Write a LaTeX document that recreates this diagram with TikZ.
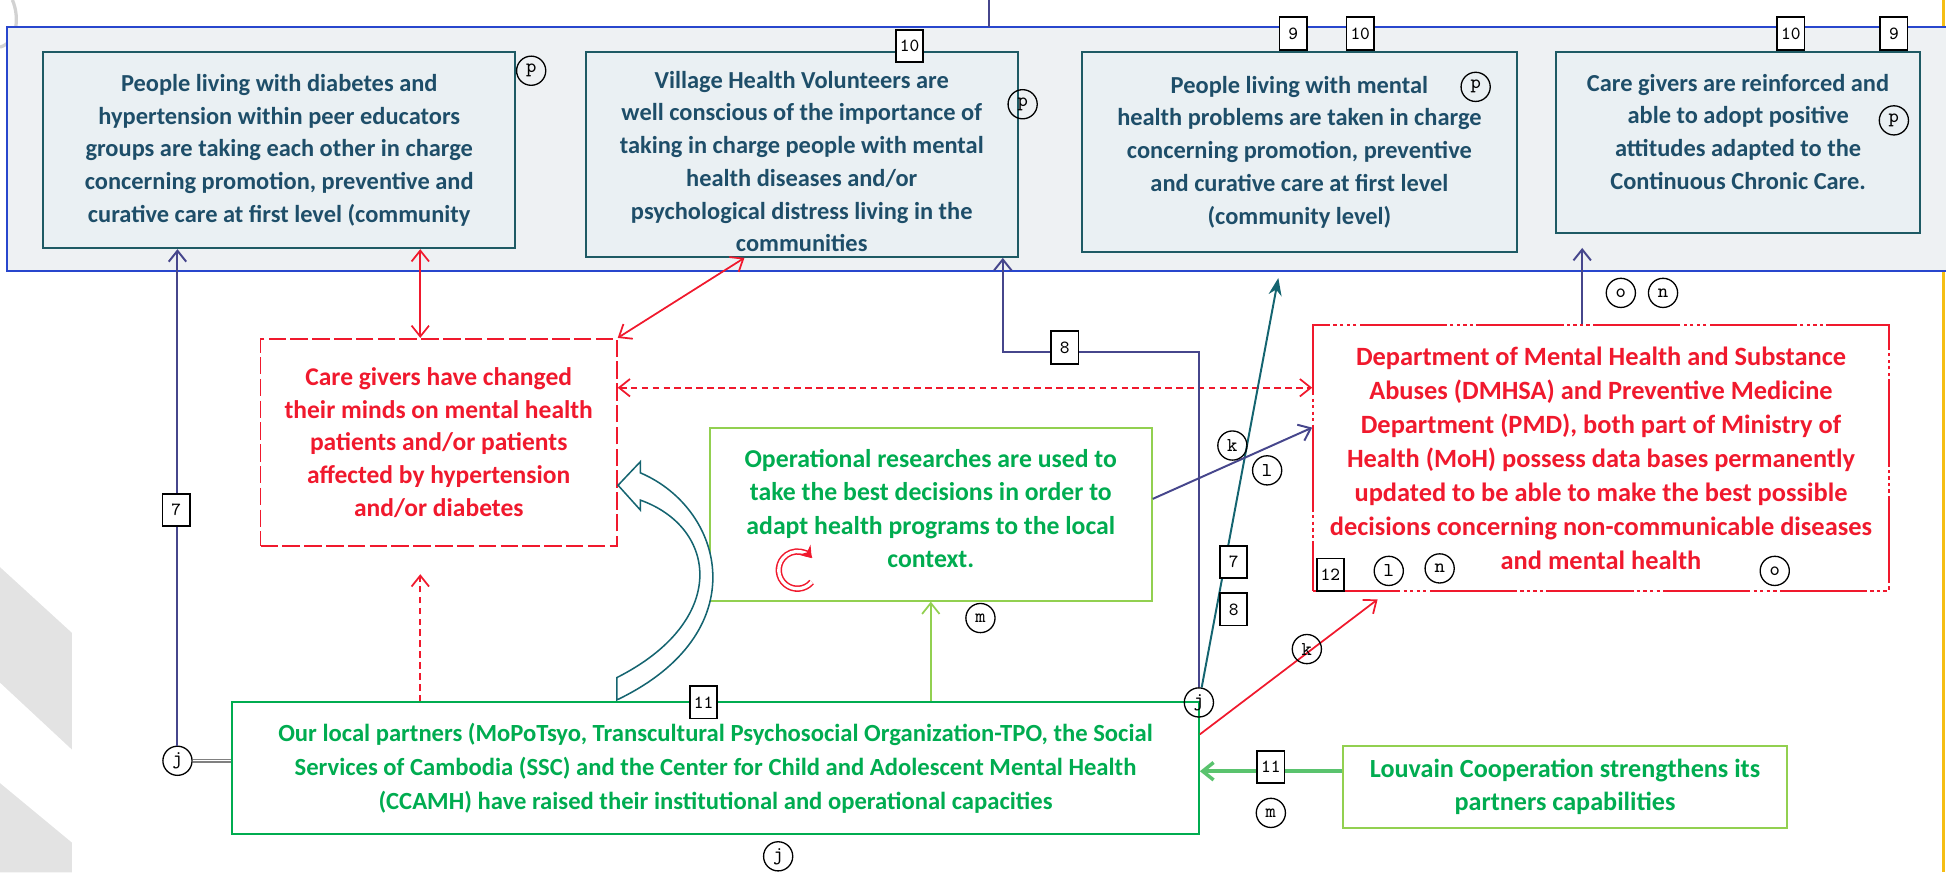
\documentclass[tikz,border=0pt]{standalone}
\usepackage{fontspec}
\setmainfont{Carlito}
\usepackage{xcolor}
\usetikzlibrary{arrows.meta}

\definecolor{outblue}{RGB}{40,70,205}
\definecolor{panelgrey}{RGB}{238,241,243}
\definecolor{boxgrey}{RGB}{234,240,243}
\definecolor{boxteal}{RGB}{30,90,100}
\definecolor{txtteal}{RGB}{30,78,105}
\definecolor{alertred}{RGB}{240,25,45}
\definecolor{partgreen}{RGB}{0,172,80}
\definecolor{lightgreen}{RGB}{146,208,80}
\definecolor{linkgreen}{RGB}{90,195,110}
\definecolor{linknavy}{RGB}{70,70,140}
\definecolor{linkteal}{RGB}{20,100,112}
\definecolor{edgeyellow}{RGB}{245,190,20}

\begin{document}
\begin{tikzpicture}[
  x=0.2mm, y=-0.2mm,
  font=\fontsize{11.2}{15}\selectfont\bfseries,
  >={Straight Barb[length=5pt,width=8pt]},
  outcome/.style={draw=boxteal, fill=boxgrey, line width=0.9pt, align=center,
                  text=txtteal, inner sep=2pt},
  redbox/.style={draw=alertred, line width=0.8pt, align=center, text=alertred,
                 inner sep=2pt},
  greenbox/.style={draw=partgreen, line width=0.9pt, align=center,
                   text=partgreen, inner sep=2pt},
  lightbox/.style={greenbox, draw=lightgreen},
  ltr/.style={draw, circle, inner sep=0pt, minimum size=4.7mm, line width=0.6pt,
              font=\ttfamily\fontsize{9}{9}\selectfont},
  num/.style={draw, fill=white, line width=0.8pt, inner sep=0pt,
              minimum width=4.4mm, minimum height=5.2mm,
              font=\ttfamily\fontsize{8.5}{8.5}\selectfont},
  navyline/.style={draw=linknavy, line width=0.9pt},
  redline/.style={draw=alertred, line width=0.8pt},
]
\useasboundingbox (0,0) rectangle (1568,703);

% shading at the left margin
\fill[gray!22] (0,457) -- (58,510) -- (58,604) -- (0,550) -- cycle;
\fill[gray!22] (0,631) -- (58,679) -- (58,703) -- (0,703) -- cycle;
\draw[gray!35, line width=1.5pt] (0,38) .. controls (14,34) and (16,14) .. (10,0);
\draw[edgeyellow, line width=1.5pt] (1566,0) -- (1566,703);

% outcome panel
\fill[panelgrey] (6,22) rectangle (1568,218);
\draw[outblue, line width=0.9pt] (1568,22) -- (6,22) -- (6,218) -- (1568,218);
\coordinate (feed) at (797,0);
\coordinate (feedend) at (797,22);
\draw[navyline] (feed) -- (feedend);

% top row
\node[outcome, minimum width=76mm, minimum height=31.6mm] (diab) at (225,121)
  {People living with diabetes and\\hypertension within peer educators\\groups are taking each other in charge\\concerning promotion, preventive and\\curative care at first level (community};
\node[outcome, minimum width=69.6mm, minimum height=33mm] (vhv) at (646,124.5)
  {\rule{0pt}{5mm}Village Health Volunteers are\\well conscious of the importance of\\taking in charge people with mental\\health diseases and/or\\psychological distress living in the\\communities};
\node[outcome, minimum width=70mm, minimum height=32.2mm] (mental) at (1047,122.5)
  {People living with mental\\health problems are taken in charge\\concerning promotion, preventive\\and curative care at first level\\(community level)};
\node[outcome, minimum width=58.6mm, minimum height=29.2mm] (carers) at (1400.5,115)
  {Care givers are reinforced and\\able to adopt positive\\attitudes adapted to the\\Continuous Chronic Care.\\[-1.7mm]};

% middle row
\node[redbox, dash pattern=on 8pt off 2pt, minimum width=57.4mm, minimum height=33.4mm,
      font=\fontsize{11.7}{15}\selectfont\bfseries] (minds) at (353.5,356.5)
  {Care givers have changed\\their minds on mental health\\patients and/or patients\\affected by hypertension\\and/or diabetes};
\node[redbox, dash pattern=on 40pt off 1.5pt on 1.5pt off 1.5pt on 1.5pt off 1.5pt on 1.5pt off 1.5pt on 1.5pt off 1.5pt,
      minimum width=92.8mm, minimum height=42.8mm,
      font=\fontsize{12.1}{15.6}\selectfont\bfseries] (dmhsa) at (1290,369)
  {Department of Mental Health and Substance\\Abuses (DMHSA) and Preventive Medicine\\Department (PMD), both part of Ministry of\\Health (MoH) possess data bases permanently\\updated to be able to make the best possible\\decisions concerning non-communicable diseases\\and mental health};
\node[lightbox, minimum width=71.2mm, minimum height=27.8mm,
      font=\fontsize{11.8}{15.3}\selectfont\bfseries] (opres) at (750,414.5)
  {Operational researches are used to\\take the best decisions in order to\\adapt health programs to the local\\context.\\[-3.4mm]};

% bottom row
\node[greenbox, minimum width=155.8mm, minimum height=21.2mm,
      font=\fontsize{11.3}{15.4}\selectfont\bfseries] (partners) at (576.5,619)
  {Our local partners (MoPoTsyo, Transcultural Psychosocial Organization-TPO, the Social\\Services of Cambodia (SSC) and the Center for Child and Adolescent Mental Health\\(CCAMH) have raised their institutional and operational capacities};
\node[lightbox, minimum width=71.6mm, minimum height=13.2mm,
      font=\fontsize{12}{15}\selectfont\bfseries] (louvain) at (1261,634)
  {Louvain Cooperation strengthens its\\partners capabilities};

\node[ltr] (jl) at (143,613) {j};
\node[ltr] (jr) at (966,566) {j};
\node[ltr] (jb) at (627,690) {j};

% links
\draw[gray, double, line width=0.6pt] (jl) -- (jl -| partners.west);
\draw[navyline, ->] (jl) -- (jl |- diab.south);
\draw[redline, <->] (minds.100 |- diab.south) -- (minds.100);
\draw[redline, <->] (vhv.241) -- (minds.north east);
\draw[redline, densely dashed, <->] (minds.17) -- (minds.17 -| dmhsa.west);
\draw[redline, densely dashed, ->, shorten >=4.4mm] (minds.260 |- partners.north) -- (minds.260);
\draw[draw=lightgreen, line width=0.8pt, ->] (opres.south |- partners.north) -- (opres.south);
\draw[draw=linkgreen, line width=1.6pt, ->] (louvain.176) -- (louvain.176 -| partners.east);

\coordinate (bend8) at (808,284);
\draw[navyline, ->] (jr) |- (bend8) -- (bend8 |- vhv.south);
\coordinate (mentip) at (1030,224);
\draw[draw=linkteal, line width=0.9pt, -{Stealth[length=8pt,width=6pt]}] (jr) -- (mentip);
\draw[navyline, ->] (opres.4) -- (dmhsa.174);
\coordinate (dmtip) at (1110,483);
\draw[redline, ->] (partners.4) -- (dmtip);
\draw[navyline, ->, shorten >=2.2mm] (dmhsa.98) -- (dmhsa.98 |- carers.south);

% hollow arrow bending back into the care givers box
\draw[linkteal, fill=white, line width=0.7pt]
  (516,381) .. controls (584,410) and (610,510) .. (497,564) -- (497,546)
  .. controls (588,500) and (578,425) .. (516,403) -- (516,411) -- (498,391)
  -- (516,372) -- cycle;

% cycle mark
\draw[alertred, line width=0.7pt, double=white, double distance=1.5pt,
      -{Stealth[length=5pt,width=7pt]}]
  (654,469) arc[start angle=-40, end angle=-320, radius=3mm];

% numbered steps
\node[num] at (733,37) {10};
\node[num] at (1042,27) {9};
\node[num] at (1096,27) {10};
\node[num] at (1443,27) {10};
\node[num] at (1526,27) {9};
\node[num] at (142,411) {7};
\node[num] at (858,280) {8};
\node[num] at (994,453) {7};
\node[num] at (994,491) {8};
\node[num] at (1072,463) {12};
\node[num] at (567,566) {11};
\node[num] at (1024,618) {11};

% letter marks
\node[ltr] at (428,57) {p};
\node[ltr] at (824,84) {p};
\node[ltr] at (1189,70) {p};
\node[ltr] at (1526,97) {p};
\node[ltr] at (1306,236) {o};
\node[ltr] at (1340,236) {n};
\node[ltr] at (993,359) {k};
\node[ltr] at (1021,379) {l};
\node[ltr] at (1119,460) {l};
\node[ltr] at (1160,458) {n};
\node[ltr] at (1430,460) {o};
\node[ltr] at (790,498) {m};
\node[ltr] at (1053,523) {k};
\node[ltr] at (1024,655) {m};
\end{tikzpicture}
\end{document}
